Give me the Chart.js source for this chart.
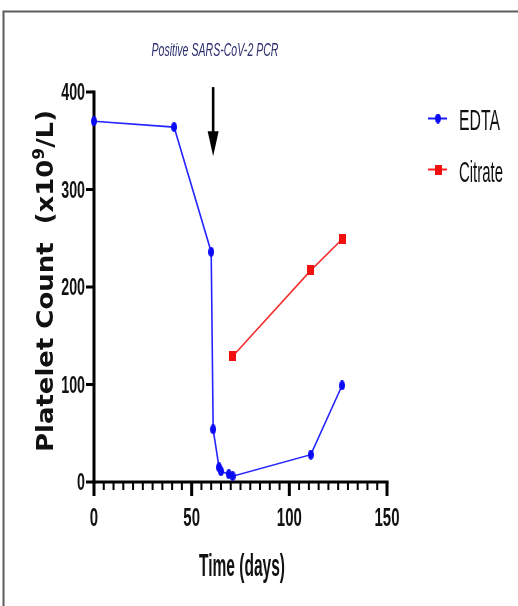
<!DOCTYPE html>
<html>
<head>
<meta charset="utf-8">
<script src="https://cdn.jsdelivr.net/npm/chart.js@4"></script>
<style>
  html, body { margin: 0; padding: 0; background: #fff; }
  canvas { display: block; }
</style>
</head>
<body>
<canvas id="c" width="518" height="606"></canvas>
<script>
// ---- data ----
const edtaDays = [0, 41, 60, 61, 64, 65, 69, 71, 111, 127];
const edtaCounts = [370, 364, 236, 54, 15, 11, 8, 6, 28, 99];
const citrateDays = [71, 111, 127];
const citrateCounts = [129, 217, 249];
const seriesNames = ['EDTA', 'Citrate'];
const xLabelValues = [0, 50, 100, 150];
const yLabelValues = [0, 100, 200, 300, 400];
const titleText = 'Positive SARS-CoV-2 PCR';
const arrowDay = 61;
const xTitle = 'Time (days)';
const yTitleParts = ['Platelet Count  (x10', '9', '/L)'];

// ---- marker images ----
function makeEllipse(w, h, color) {
  const c = document.createElement('canvas');
  c.width = w; c.height = h;
  const g = c.getContext('2d');
  g.fillStyle = color;
  g.beginPath();
  g.ellipse(w / 2, h / 2, w / 2, h / 2, 0, 0, Math.PI * 2);
  g.fill();
  return c;
}
function makeRect(w, h, color) {
  const c = document.createElement('canvas');
  c.width = w; c.height = h;
  const g = c.getContext('2d');
  g.fillStyle = color;
  g.fillRect(0, 0, w, h);
  return c;
}
const blueMark = makeEllipse(6, 10, '#0a0af5');
const redMark = makeRect(7, 10, '#f01010');

function fitText(ctx, text, x, y, font, targetW, align, color) {
  ctx.save();
  ctx.font = font;
  const w = ctx.measureText(text).width;
  const s = targetW / w;
  ctx.translate(x, y);
  ctx.scale(s, 1);
  ctx.fillStyle = color;
  ctx.textAlign = align;
  ctx.textBaseline = 'alphabetic';
  ctx.fillText(text, 0, 0);
  ctx.restore();
}
function scaledText(ctx, text, x, y, font, sx, align, baseline, color) {
  ctx.save();
  ctx.translate(x, y);
  ctx.scale(sx, 1);
  ctx.font = font;
  ctx.fillStyle = color;
  ctx.textAlign = align;
  ctx.textBaseline = baseline;
  ctx.fillText(text, 0, 0);
  ctx.restore();
}

const axesPlugin = {
  id: 'axesPlugin',
  beforeDatasetsDraw(chart) {
    const ctx = chart.ctx;
    const xs = chart.scales.x, ys = chart.scales.y;
    const x0 = xs.getPixelForValue(xs.min), x1 = xs.getPixelForValue(xs.max);
    const y0 = ys.getPixelForValue(ys.min), y1 = ys.getPixelForValue(ys.max);
    ctx.save();
    ctx.fillStyle = '#000';
    // axis lines
    ctx.fillRect(x0 - 1.5, y1 - 1.5, 3, y0 - y1 + 3);
    ctx.fillRect(x0 - 1.5, y0 - 1.5, x1 - x0 + 3, 3);
    // y ticks
    ys.ticks.forEach(t => {
      const py = ys.getPixelForValue(t.value);
      ctx.fillRect(x0 - 8, py - 1.5, 8, 3);
    });
    // x ticks
    xs.ticks.forEach(t => {
      const px = xs.getPixelForValue(t.value);
      const major = xLabelValues.includes(t.value);
      const len = major ? 14 : 8;
      const w = major ? 3 : 2;
      ctx.fillRect(px - w / 2, y0, w, len);
    });
    ctx.restore();
  },
  afterDraw(chart) {
    const ctx = chart.ctx;
    const xs = chart.scales.x, ys = chart.scales.y;
    const y0 = ys.getPixelForValue(0);
    const x0 = xs.getPixelForValue(0);
    // tick labels
    xLabelValues.forEach(v => {
      scaledText(ctx, String(v), xs.getPixelForValue(v), y0 + 44, 'bold 25px "Liberation Sans", Arial, sans-serif', 0.6, 'center', 'alphabetic', '#111');
    });
    yLabelValues.forEach(v => {
      scaledText(ctx, String(v), x0 - 9, ys.getPixelForValue(v) + 8, 'bold 23px "Liberation Sans", Arial, sans-serif', 0.62, 'right', 'alphabetic', '#111');
    });
    // x title
    fitText(ctx, xTitle, 242, 576, 'bold 31px "Liberation Sans", Arial, sans-serif', 86, 'center', '#111');
    // y title (rotated)
    ctx.save();
    ctx.translate(53, 281);
    ctx.rotate(-Math.PI / 2);
    const mainFont = 'bold 23px "DejaVu Sans", sans-serif';
    const supFont = 'bold 15px "DejaVu Sans", sans-serif';
    ctx.font = mainFont;
    const w1 = ctx.measureText(yTitleParts[0]).width;
    const w3 = ctx.measureText(yTitleParts[2]).width;
    ctx.font = supFont;
    const ws = ctx.measureText(yTitleParts[1]).width;
    const total = w1 + ws + w3;
    const s = 342 / total;
    ctx.scale(s, 1);
    ctx.fillStyle = '#111';
    ctx.textAlign = 'left';
    ctx.textBaseline = 'alphabetic';
    let cx = -total / 2;
    ctx.font = mainFont;
    ctx.fillText(yTitleParts[0], cx, 0);
    cx += w1;
    ctx.font = supFont;
    ctx.fillText(yTitleParts[1], cx, -9);
    cx += ws;
    ctx.font = mainFont;
    ctx.fillText(yTitleParts[2], cx, 0);
    ctx.restore();
    // title
    fitText(ctx, titleText, 215, 56, 'italic 19px "Liberation Sans", Arial, sans-serif', 127, 'center', '#2c2f6e');
    // arrow
    const ax = xs.getPixelForValue(arrowDay);
    const aTop = ys.getPixelForValue(405);
    const aTip = ys.getPixelForValue(334);
    ctx.save();
    ctx.fillStyle = '#000';
    ctx.fillRect(ax - 1.3, aTop, 2.6, aTip - aTop - 20);
    ctx.beginPath();
    ctx.moveTo(ax - 5.5, aTip - 25);
    ctx.lineTo(ax + 5.5, aTip - 25);
    ctx.lineTo(ax, aTip);
    ctx.closePath();
    ctx.fill();
    ctx.restore();
    // legend
    const legend = [
      { name: seriesNames[0], color: '#1a1aff', img: blueMark, y: 118.5, base: 130, w: 41 },
      { name: seriesNames[1], color: '#f22', img: redMark, y: 169.5, base: 182, w: 44 }
    ];
    legend.forEach(l => {
      ctx.save();
      ctx.strokeStyle = l.color;
      ctx.lineWidth = 2;
      ctx.beginPath();
      ctx.moveTo(428, l.y);
      ctx.lineTo(447, l.y);
      ctx.stroke();
      ctx.drawImage(l.img, 438 - l.img.width / 2, l.y - l.img.height / 2);
      ctx.restore();
      fitText(ctx, l.name, 459, l.base, '29px "Liberation Sans", Arial, sans-serif', l.w, 'left', '#111');
    });
    // frame
    ctx.save();
    ctx.strokeStyle = '#5c5c5c';
    ctx.lineWidth = 2;
    ctx.beginPath();
    ctx.moveTo(3.5, 606);
    ctx.lineTo(3.5, 11.5);
    ctx.lineTo(518, 11.5);
    ctx.stroke();
    ctx.restore();
  }
};

new Chart(document.getElementById('c'), {
  type: 'line',
  data: {
    datasets: [
      {
        label: seriesNames[0],
        data: edtaDays.map((d, i) => ({ x: d, y: edtaCounts[i] })),
        borderColor: '#2424ff',
        borderWidth: 1.6,
        pointStyle: blueMark,
        pointRadius: 5,
        clip: false,
        tension: 0
      },
      {
        label: seriesNames[1],
        data: citrateDays.map((d, i) => ({ x: d, y: citrateCounts[i] })),
        borderColor: '#f23030',
        borderWidth: 1.6,
        pointStyle: redMark,
        pointRadius: 5,
        clip: false,
        tension: 0
      }
    ]
  },
  options: {
    responsive: false,
    animation: false,
    devicePixelRatio: 1,
    layout: { padding: { top: 92, right: 131, left: 0, bottom: 0 } },
    plugins: { legend: { display: false }, tooltip: { enabled: false } },
    scales: {
      x: {
        type: 'linear', min: 0, max: 150,
        ticks: { display: false, stepSize: 5, autoSkip: false },
        grid: { display: false }, border: { display: false },
        afterFit: s => { s.height = 124; }
      },
      y: {
        type: 'linear', min: 0, max: 400,
        ticks: { display: false, stepSize: 100 },
        grid: { display: false }, border: { display: false },
        afterFit: s => { s.width = 94; }
      }
    }
  },
  plugins: [axesPlugin]
});
</script>
</body>
</html>
